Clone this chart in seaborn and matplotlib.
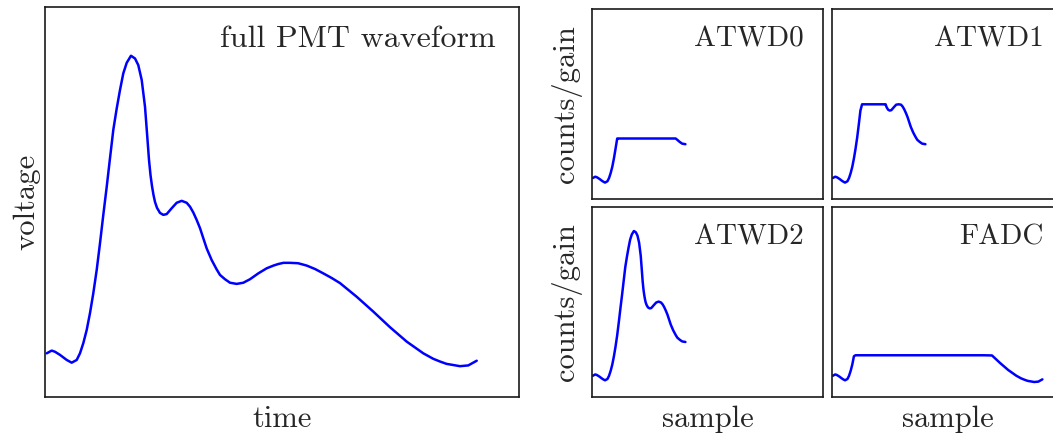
import numpy as np
import matplotlib
matplotlib.use("Agg")
import matplotlib.pyplot as plt
import seaborn as sns

# Simulated PMT pulse (arbitrary time / voltage units)
time = np.array([
    0.36, 1.41, 2.11, 3.16, 4.58, 5.63, 6.69, 7.38, 8.08, 8.80, 9.49, 10.19,
    10.91, 11.60, 12.30, 13.02, 13.71, 14.41, 15.13, 15.82, 16.52, 17.24,
    18.14, 18.99, 19.68, 20.40, 21.10, 21.58, 21.94, 22.26, 22.57, 22.89,
    23.21, 23.63, 24.26, 24.96, 25.67, 26.73, 27.78, 28.84, 29.89, 30.59,
    31.29, 32.00, 32.70, 33.40, 34.11, 35.17, 36.22, 36.92, 37.97, 39.03,
    40.44, 41.84, 43.25, 45.00, 46.77, 48.20, 49.22, 50.30, 51.69, 53.40,
    55.21, 57.00, 58.71, 60.50, 62.24, 65.76, 69.26, 72.78, 76.31, 79.81,
    81.90, 83.33, 84.70, 86.14, 87.55, 89.30, 91.08,
])
voltage = np.array([
    0.112, 0.119, 0.116, 0.108, 0.095, 0.088, 0.095, 0.112, 0.138, 0.172,
    0.215, 0.266, 0.326, 0.394, 0.467, 0.539, 0.612, 0.685, 0.740, 0.787,
    0.830, 0.857, 0.875, 0.868, 0.851, 0.813, 0.744, 0.667, 0.608, 0.569,
    0.541, 0.518, 0.500, 0.485, 0.472, 0.467, 0.469, 0.484, 0.498, 0.503,
    0.498, 0.488, 0.473, 0.454, 0.433, 0.407, 0.381, 0.351, 0.327, 0.313,
    0.302, 0.293, 0.290, 0.293, 0.302, 0.317, 0.330, 0.337, 0.341, 0.344,
    0.344, 0.343, 0.337, 0.328, 0.317, 0.305, 0.292, 0.257, 0.219, 0.179,
    0.142, 0.112, 0.098, 0.091, 0.085, 0.082, 0.079, 0.081, 0.093,
])

# Digitizer channels: name, readout window end, saturation level (counts/gain)
channels = ["ATWD0", "ATWD1", "ATWD2", "FADC"]
window_end = [41.0, 41.0, 41.0, 100.0]
saturation = [0.32, 0.50, 1.00, 0.22]

sns.set_style("white")
plt.rcParams["font.family"] = ["cmr10"]
plt.rcParams["axes.unicode_minus"] = False
plt.rcParams["axes.formatter.use_mathtext"] = True

LINE = dict(color="#0000ff", linewidth=1.8, estimator=None, sort=False)
FS_LABEL = 22
FS_NAME = 21
FS_TITLE = 23

W, H = 1053, 436
fig = plt.figure(figsize=(W / 100, H / 100), dpi=100)


def add_axes_px(x0, y0, x1, y1):
    return fig.add_axes([x0 / W, 1 - y1 / H, (x1 - x0) / W, (y1 - y0) / H])


def style(ax):
    ax.set(xlim=(0, 100), ylim=(0, 1), xticks=[], yticks=[])
    for s in ax.spines.values():
        s.set_color("#1a1a1a")
        s.set_linewidth(1.2)
    for ln in ax.lines:
        ln.set_solid_joinstyle("round")
        ln.set_solid_capstyle("round")


# Full waveform
ax = add_axes_px(45, 7, 519, 397)
sns.lineplot(x=time, y=voltage, ax=ax, **LINE)
style(ax)
ax.text(0.951, 0.898, "full PMT waveform", transform=ax.transAxes,
        ha="right", va="baseline", fontsize=FS_TITLE)
ax.set_xlabel("time", fontsize=FS_LABEL, labelpad=6)
ax.set_ylabel("voltage", fontsize=FS_LABEL, labelpad=3)

# Digitizer panels: each shows the pulse clipped at its saturation level
cols = [(592, 823), (832, 1063)]
rows = [(9.3, 199.3), (207.3, 397)]
for i, name in enumerate(channels):
    r, c = divmod(i, 2)
    ax = add_axes_px(cols[c][0], rows[r][0], cols[c][1], rows[r][1])
    keep = time <= window_end[i]
    counts = np.minimum(voltage[keep], saturation[i])
    sns.lineplot(x=time[keep], y=counts, ax=ax, **LINE)
    style(ax)
    ax.text(0.915, 0.805, name, transform=ax.transAxes,
            ha="right", va="baseline", fontsize=FS_NAME)
    if c == 0:
        ax.set_ylabel("counts/gain", fontsize=FS_LABEL, labelpad=7)
    if r == 1:
        ax.set_xlabel("sample", fontsize=FS_LABEL, labelpad=6)

fig.savefig("out.png", dpi=100)
